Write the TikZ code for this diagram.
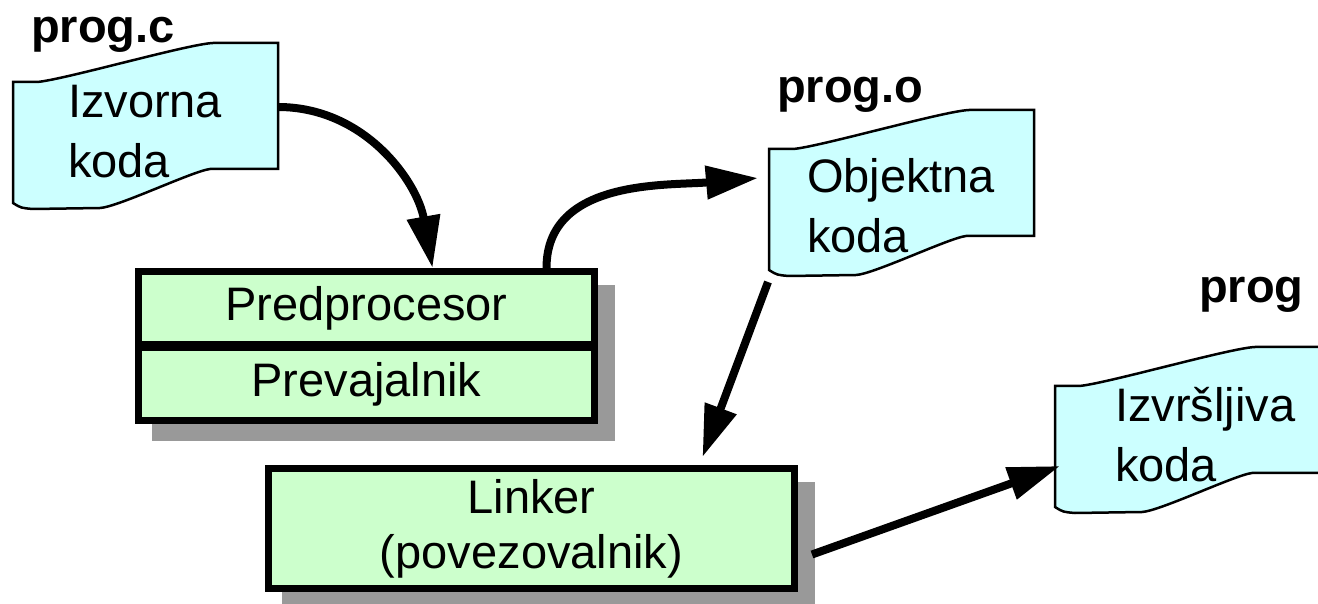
\documentclass[tikz,border=0pt]{standalone}
\usepackage{fontspec}
\setmainfont{Liberation Sans}
\usepackage{xcolor}
\usetikzlibrary{arrows.meta, positioning, backgrounds}

\definecolor{docfill}{HTML}{CCFFFF}
\definecolor{blockfill}{HTML}{CCFFCC}
\definecolor{shadowgray}{HTML}{999999}

\tikzstyle{every node}=[font=\fontsize{47}{60}\selectfont]
\tikzstyle{doc} = [anchor=north west, align=left, inner sep=0pt, outer sep=0pt]
\tikzstyle{docshape} = [draw, fill=docfill, line width=2.5pt]
\tikzstyle{block} = [rectangle, draw, fill=blockfill, line width=7pt, align=center, minimum width=456pt, minimum height=73pt]
\tikzstyle{shadowfill} = [fill=shadowgray]
\tikzstyle{filename} = [anchor=base west, inner sep=0pt, font=\bfseries\fontsize{47}{50}\selectfont]
\tikzstyle{line} = [draw, line width=8pt, -{Triangle[length=52pt, width=32pt]}]

\begin{document}
\begin{tikzpicture}[x=1pt, y=1pt]
    \useasboundingbox (0,0) rectangle (1318,603);
    % File names
    \node [filename] (srcname) at (31,560) {prog.c};
    \node [filename] (objname) at (777,500) {prog.o};
    \node [filename] (exename) at (1199,300) {prog};
    % Documents
    \node [doc, inner xsep=55pt, inner ysep=3pt] (src) at (13,521) {Izvorna\\koda};
    \node [doc, inner xsep=38pt, inner ysep=9pt] (obj) at (769,454) {Objektna\\koda};
    \node [doc, inner xsep=60pt, inner ysep=1pt] (exe) at (1055,217) {Izvršljiva\\koda};
    % Place blocks
    \node [block] (pre) at (366.5,295) {Predprocesor};
    \node [block, below=-4pt of pre] (prev) {Prevajalnik};
    \node [block, minimum width=526pt, minimum height=120pt, font=\fontsize{47}{55}\selectfont] (link) at (531.5,74.5) {Linker\\(povezovalnik)};
    % Outlines and shadows
    \begin{scope}[on background layer]
        \foreach \d in {src, obj, exe}
            \path [docshape, shift={(\d.north west)}] (0,0) -- (24,0) .. controls (50,2) and (175,38) .. (200,39) -- (265,39) -- (265,-87) -- (197,-87) .. controls (180,-89) and (105,-125) .. (87,-126) -- (20,-127) .. controls (8,-126) .. (0,-121) -- cycle;
        \fill [shadowfill] ([shift={(17,-17)}]pre.north west) rectangle ([shift={(17,-17)}]prev.south east);
        \fill [shadowfill] ([shift={(17,-17)}]link.north west) rectangle ([shift={(17,-17)}]link.south east);
    \end{scope}
    % Draw edges
    \path [line] ([shift={(265,-25)}]src.north west) to[out=0, in=100] ([xshift=66pt]pre.north);
    \path [line] ([xshift=180pt]pre.north) to[out=90, in=185] ([shift={(-11,-29)}]obj.north west);
    \path [line] ([shift={(-1,-133)}]obj.north west) -- ([shift={(171,8)}]link.north);
    \path [line] ([shift={(14,-26)}]link.east) -- ([shift={(5,-80)}]exe.north west);
\end{tikzpicture}
\end{document}
